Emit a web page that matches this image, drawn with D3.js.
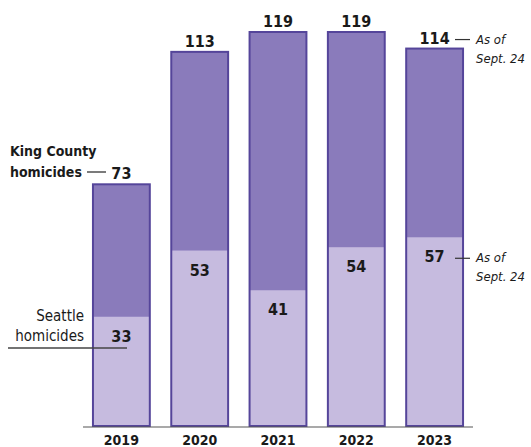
<!DOCTYPE html>
<html>
<head>
<meta charset="utf-8">
<script src="https://cdn.jsdelivr.net/npm/d3@7"></script>
<style>
  body { margin: 0; background: #fff; }
  text { font-family: "DejaVu Sans Condensed", "DejaVu Sans", sans-serif; fill: #1a1a1a; }
</style>
</head>
<body>
<div id="chart"></div>
<script>
// chart data
var years = ["2019", "2020", "2021", "2022", "2023"];
var kingCounty = [73, 113, 119, 119, 114];
var seattle = [33, 53, 41, 54, 57];

var width = 531, height = 447;
var baseY = 426;

var svg = d3.select("#chart").append("svg")
  .attr("width", width)
  .attr("height", height);

var x = d3.scaleBand().domain(years).range([71.5, 484.5]).padding(0.274);
var y = d3.scaleLinear().domain([0, 119]).range([baseY, 32]);

var darkFill = "#8a7bbb", lightFill = "#c6bbdf", strokeCol = "#55459a";

// king county bars (full height)
svg.selectAll(".kc").data(years).enter().append("rect")
  .attr("x", d => x(d))
  .attr("y", (d, i) => y(kingCounty[i]))
  .attr("width", x.bandwidth())
  .attr("height", (d, i) => baseY - y(kingCounty[i]))
  .attr("fill", darkFill);

// seattle portion
svg.selectAll(".sea").data(years).enter().append("rect")
  .attr("x", d => x(d))
  .attr("y", (d, i) => y(seattle[i]))
  .attr("width", x.bandwidth())
  .attr("height", (d, i) => baseY - y(seattle[i]))
  .attr("fill", lightFill);

// outlines
svg.selectAll(".outline").data(years).enter().append("rect")
  .attr("x", d => x(d))
  .attr("y", (d, i) => y(kingCounty[i]))
  .attr("width", x.bandwidth())
  .attr("height", (d, i) => baseY - y(kingCounty[i]))
  .attr("fill", "none")
  .attr("stroke", strokeCol)
  .attr("stroke-width", 2);

// baseline
svg.append("line")
  .attr("x1", 83).attr("x2", 473)
  .attr("y1", baseY + 1).attr("y2", baseY + 1)
  .attr("stroke", "#555").attr("stroke-width", 1.2);

// year labels
svg.selectAll(".yr").data(years).enter().append("text")
  .attr("x", d => x(d) + x.bandwidth() / 2)
  .attr("y", 445)
  .attr("text-anchor", "middle")
  .attr("font-size", 14).attr("font-weight", "bold")
  .text(d => d);

// total labels
svg.selectAll(".tot").data(years).enter().append("text")
  .attr("x", d => x(d) + x.bandwidth() / 2)
  .attr("y", (d, i) => y(kingCounty[i]) - 5)
  .attr("text-anchor", "middle")
  .attr("font-size", 16).attr("font-weight", "bold")
  .text((d, i) => kingCounty[i]);

// seattle labels
svg.selectAll(".sl").data(years).enter().append("text")
  .attr("x", d => x(d) + x.bandwidth() / 2)
  .attr("y", (d, i) => y(seattle[i]) + 25)
  .attr("text-anchor", "middle")
  .attr("font-size", 16).attr("font-weight", "bold")
  .text((d, i) => seattle[i]);

// left annotations
svg.append("text").attr("x", 10).attr("y", 156)
  .attr("font-size", 14).attr("font-weight", "bold").text("King County");
svg.append("text").attr("x", 10).attr("y", 177)
  .attr("font-size", 14).attr("font-weight", "bold").text("homicides");
svg.append("line").attr("x1", 87).attr("x2", 106).attr("y1", 172).attr("y2", 172)
  .attr("stroke", "#333").attr("stroke-width", 1.3);

svg.append("text").attr("x", 84).attr("y", 321).attr("text-anchor", "end")
  .attr("font-size", 15).text("Seattle");
svg.append("text").attr("x", 84).attr("y", 341).attr("text-anchor", "end")
  .attr("font-size", 15).text("homicides");
svg.append("line").attr("x1", 8).attr("x2", 127).attr("y1", 348).attr("y2", 348)
  .attr("stroke", "#444").attr("stroke-width", 1.3);

// right annotations
function asOf(yPos)
  {
  svg.append("line").attr("x1", 455).attr("x2", 470).attr("y1", yPos - 4).attr("y2", yPos - 4)
    .attr("stroke", "#333").attr("stroke-width", 1.2);
  svg.append("text").attr("x", 476).attr("y", yPos)
    .attr("font-size", 13).attr("font-style", "italic").text("As of");
  svg.append("text").attr("x", 476).attr("y", yPos + 19)
    .attr("font-size", 13).attr("font-style", "italic").text("Sept. 24");
  }
asOf(y(kingCounty[4]) - 5);
asOf(y(seattle[4]) + 25);
</script>
</body>
</html>
